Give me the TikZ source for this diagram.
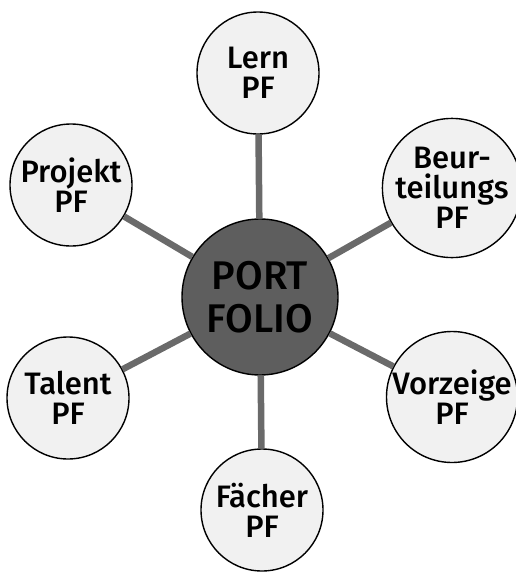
\documentclass[tikz,border=0pt]{standalone}
\usepackage{fontspec}
\setmainfont{Fira Sans}[UprightFont={* Medium}]
\usepackage{tikz}
\usetikzlibrary{positioning, calc}
\definecolor{pfgray}{HTML}{F1F1F1}
\definecolor{coregray}{HTML}{5E5E5E}
\definecolor{linkgray}{HTML}{6A6A6A}

\begin{document}
\begin{tikzpicture}[x=1pt, y=-1pt, every node/.style={align=center},
  pf/.style={circle, draw=black, line width=1.4pt, fill=pfgray, minimum size=122pt, inner sep=0pt, font=\fontsize{31}{30}\selectfont},
  core/.style={circle, draw=black, line width=1.4pt, fill=coregray, minimum size=156pt, inner sep=0pt, font=\fontsize{40}{43}\selectfont},
  link/.style={draw=linkgray, line width=6.5pt}]
\useasboundingbox (0,0) rectangle (515,576);
\node[core] (port) at (260,297) {PORT\\FOLIO};
\node[pf] (lern) at (258,73) {Lern\\PF};
\node[pf] (projekt) at (71,185) {Projekt\\PF};
\node[pf] (beur) at (452,188) {Beur-\\teilungs\\PF};
\node[pf] (talent) at (68,398) {Talent\\PF};
\node[pf] (vorzeige) at (452,397) {Vorzeige\\PF};
\node[pf] (faecher) at (262,510) {Fächer\\PF};
\foreach \n in {lern, projekt, beur, talent, vorzeige, faecher}
  \draw[link] (port) -- (\n);
\end{tikzpicture}
\end{document}
